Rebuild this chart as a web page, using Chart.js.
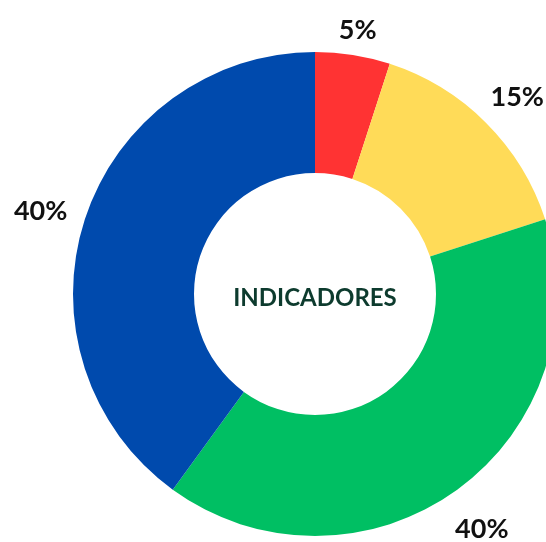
<!DOCTYPE html>
<html lang="es">
<head>
  <meta charset="UTF-8" />
  <title>Indicadores</title>
  <script src="https://cdn.jsdelivr.net/npm/chart.js"></script>
  <style>
    body {
      margin: 0;
      background: #fff;
      overflow: hidden;
    }
    .wrap {
      width: 546px;
      height: 542px;
      overflow: hidden;
      position: relative;
    }
    #donut {
      position: absolute;
      left: 0;
      top: 0;
    }
  </style>
</head>
<body>
  <div class="wrap">
    <canvas id="donut" width="630" height="542"></canvas>
  </div>

  <script>
    const labels = ['Rojo', 'Amarillo', 'Verde', 'Azul'];
    const values = [5, 15, 40, 40];
    const colors = ['#FF3333', '#FFDB58', '#00BF63', '#004AAD'];
    const centerText = 'INDICADORES';

    // draws the % labels outside the ring and the text in the hole
    const outsideLabels = {
      id: 'outsideLabels',
      afterDraw(chart) {
        const ctx = chart.ctx;
        const meta = chart.getDatasetMeta(0);
        const total = values.reduce((a, b) => a + b, 0);
        ctx.save();
        ctx.font = 'bold 27px Lato';
        ctx.fillStyle = '#111';
        ctx.textAlign = 'center';
        ctx.textBaseline = 'middle';
        meta.data.forEach((arc, i) => {
          const p = arc.getProps(['x', 'y', 'startAngle', 'endAngle', 'outerRadius'], true);
          const mid = (p.startAngle + p.endAngle) / 2;
          const txt = Math.round(values[i] / total * 100) + '%';
          const halfW = ctx.measureText(txt).width / 2;
          const halfH = 10;
          const c = Math.cos(mid), s = Math.sin(mid);
          const d = p.outerRadius + 18 + halfW * Math.abs(c) + halfH * Math.abs(s);
          ctx.fillText(txt, p.x + c * d, p.y + s * d + 6);
        });
        const a0 = meta.data[0];
        ctx.font = 'bold 24px Lato';
        ctx.fillStyle = '#0D3B2E';
        ctx.fillText(centerText, a0.x, a0.y + 4);
        ctx.restore();
      }
    };

    new Chart(document.getElementById('donut'), {
      type: 'doughnut',
      data: {
        labels: labels,
        datasets: [{
          data: values,
          backgroundColor: colors,
          borderWidth: 0,
          hoverOffset: 0
        }]
      },
      options: {
        responsive: false,
        animation: false,
        cutout: '50%',
        layout: {
          padding: { left: 73, right: 73, top: 52, bottom: 6 }
        },
        plugins: {
          legend: { display: false },
          tooltip: { enabled: false }
        }
      },
      plugins: [outsideLabels]
    });
  </script>
</body>
</html>
